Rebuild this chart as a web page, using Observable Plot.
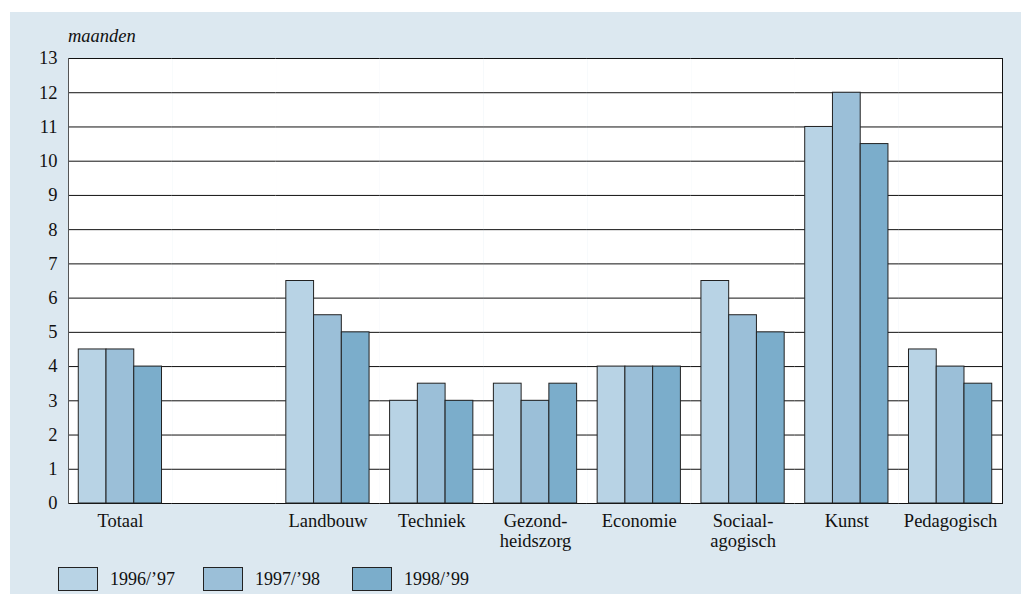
<!DOCTYPE html>
<html><head><meta charset="utf-8">
<script src="https://cdn.jsdelivr.net/npm/d3@7"></script>
<script src="https://cdn.jsdelivr.net/npm/@observablehq/plot@0.6"></script>
<style>
body{margin:0;background:#fff;}
#wrap{position:relative;width:1021px;height:594px;font-family:"Liberation Serif",serif;color:#111;overflow:hidden;}
#panel{position:absolute;left:10px;top:12px;right:0;bottom:0;background:#dce8f0;}
#chart{position:absolute;left:0;top:0;}
#ylabel{position:absolute;left:68px;top:26px;font-style:italic;font-size:18.5px;}
#legend{position:absolute;left:58px;top:567px;display:flex;font-size:18px;}
.item{display:flex;align-items:center;width:145px;}
.item:nth-child(2){width:149px;}
.sw{width:40px;height:24px;border:1px solid #222;box-sizing:border-box;margin-right:12px;}
</style></head>
<body>
<div id="wrap"><div id="panel"></div><div id="chart"></div><div id="ylabel">maanden</div><div id="legend"></div></div>
<script>
const categories = ["Totaal", " ", "Landbouw", "Techniek", "Gezond-\nheidszorg", "Economie", "Sociaal-\nagogisch", "Kunst", "Pedagogisch"];
const years = ["1996/\u201997", "1997/\u201998", "1998/\u201999"];
const colors = ["#b8d3e5", "#9bbfd8", "#7badcb"];
const cats = ["Totaal", " ", "Landbouw", "Techniek", "Gezond-\nheidszorg", "Economie", "Sociaal-\nagogisch", "Kunst", "Pedagogisch"];
const v1996 = [4.5, null, 6.5, 3, 3.5, 4, 6.5, 11, 4.5];
const v1997 = [4.5, null, 5.5, 3.5, 3, 4, 5.5, 12, 4];
const v1998 = [4, null, 5, 3, 3.5, 4, 5, 10.5, 3.5];
const yTicks = d3.range(0, 14);

const series = [v1996, v1997, v1998];
const data = [];
cats.forEach((c, i) => series.forEach((s, j) => data.push({cat: c, year: years[j], value: s[i]})));

const chart = Plot.plot({
  width: 1021, height: 560,
  marginLeft: 68, marginRight: 19, marginTop: 58, marginBottom: 57,
  style: {background: "transparent", fontFamily: "'Liberation Serif', serif", fontSize: "18.5px", color: "#111"},
  fx: {domain: categories, padding: 0, round: false, label: null, axis: null},
  x: {domain: years, paddingInner: 0, paddingOuter: 0.37, round: false, axis: null},
  y: {domain: [0, 13], axis: null},
  color: {domain: years, range: colors},
  marks: [
    Plot.frame({fill: "white", stroke: null}),
    Plot.ruleY(yTicks, {stroke: "#111", strokeWidth: 1}),
    Plot.barY(data, {fx: "cat", x: "year", y: "value", fill: "year", stroke: "#222", strokeWidth: 1}),
    Plot.frame({anchor: "left", facetAnchor: "left", stroke: "#555"}),
    Plot.frame({anchor: "right", facetAnchor: "right", stroke: "#111"}),
    Plot.axisY({ticks: yTicks, tickSize: 0, tickPadding: 11, label: null}),
    Plot.axisFx({anchor: "bottom", tickSize: 0, tickPadding: 10, label: null, lineHeight: 1.05})
  ]
});
document.getElementById("chart").appendChild(chart);

const leg = document.getElementById("legend");
years.forEach((y, i) => {
  const it = document.createElement("div"); it.className = "item";
  const sw = document.createElement("div"); sw.className = "sw"; sw.style.background = colors[i];
  const t = document.createElement("span"); t.textContent = y;
  it.appendChild(sw); it.appendChild(t); leg.appendChild(it);
});
</script>
</body></html>
